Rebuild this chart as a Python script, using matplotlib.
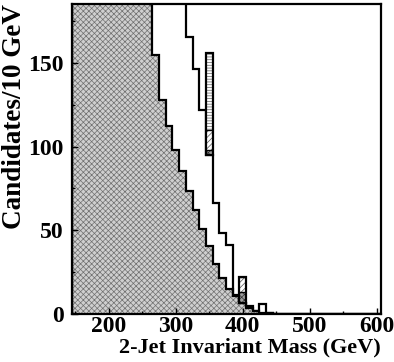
import numpy as np
import matplotlib
matplotlib.use("Agg")
import matplotlib.pyplot as plt
from matplotlib.ticker import MultipleLocator

# bin edges, 10 GeV wide
edges = np.arange(145, 615, 10)

# background (hatched) per bin, centres 150..600; the first bins run off the top
background = [
    260, 255, 250, 245, 240, 235, 230, 225, 220, 215, 205, 195,
    154.5, 128, 112, 98, 85.6, 73.5, 62.4, 51, 40.6, 29.7, 21.8, 14.9,
    10.9, 6.9, 4.0, 2.0, 1.0, 0.6, 0.4, 0.2,
    0, 0, 0, 0, 0, 0, 0, 0, 0, 0, 0, 0, 0, 0,
]
# total (open histogram) per bin
total = [
    300, 300, 300, 300, 300, 300, 300, 300, 300, 300, 300, 300,
    290, 270, 240, 215, 195, 165.6, 146, 122, 94.7, 66.4, 48.5, 41.2,
    11.5, 6.5, 5.0, 2.2, 6.3, 0.6, 0.4, 0.2,
    0, 0, 0, 0, 0, 0, 0, 0, 0, 0, 0, 0, 0, 0,
]

# stacked signal boxes
sig_mass = [350, 400]
sig_base = [94.7, 6.5]
sig_dark = [3.3, 6.5]
sig_diag = [12.0, 9.4]
sig_horiz = [45.5, 0.0]

plt.rcParams["font.family"] = ["Liberation Serif", "DejaVu Serif"]
plt.rcParams["font.weight"] = "bold"
plt.rcParams["hatch.linewidth"] = 0.5

fig = plt.figure(figsize=(3.94, 3.62), dpi=100)
ax = fig.add_axes([0.183, 0.132, 0.783, 0.857])

ax.stairs(background, edges, fill=True, facecolor="#cfcfcf",
          edgecolor="#707070", hatch="xxxxxx", lw=0)
ax.stairs(background, edges, color="black", lw=1.6)
ax.stairs(total, edges, color="black", lw=1.6)

b = np.array(sig_base)
ax.bar(sig_mass, sig_dark, width=10, bottom=b, facecolor="#9a9a9a",
       edgecolor="#303030", hatch="xxxxxx", lw=0)
b = b + np.array(sig_dark)
ax.bar(sig_mass, sig_diag, width=10, bottom=b, facecolor="white",
       edgecolor="#505050", hatch="//////", lw=0)
b = b + np.array(sig_diag)
ax.bar(sig_mass, sig_horiz, width=10, bottom=b, facecolor="white",
       edgecolor="#606060", hatch="------", lw=0)
top = b + np.array(sig_horiz)
# outlines of the boxes and the dividing lines
for i in range(len(sig_mass)):
    h = top[i] - sig_base[i]
    ax.bar(sig_mass[i], h, width=10, bottom=sig_base[i], fill=False,
           edgecolor="black", lw=1.6)
    ax.hlines([sig_base[i] + sig_dark[i], sig_base[i] + sig_dark[i] + sig_diag[i]],
              sig_mass[i] - 5, sig_mass[i] + 5, color="black", lw=1.0)

ax.set_xlim(145, 606)
ax.set_ylim(0, 185)
ax.xaxis.set_major_locator(MultipleLocator(100))
ax.xaxis.set_minor_locator(MultipleLocator(50))
ax.yaxis.set_major_locator(MultipleLocator(50))
ax.yaxis.set_minor_locator(MultipleLocator(25))
ax.tick_params(which="both", direction="in", labelsize=17, width=1.0)
ax.tick_params(which="major", length=4)
ax.tick_params(which="minor", length=2.5)
ax.tick_params(axis="x", which="major", pad=1)
ax.tick_params(axis="y", which="major", pad=6)
for s in ax.spines.values():
    s.set_linewidth(1.6)

ax.set_xlabel("2-Jet Invariant Mass (GeV)", fontsize=16, fontweight="bold",
              loc="right", labelpad=0.5)
ax.set_ylabel("Candidates/10 GeV", fontsize=19.5, fontweight="bold",
              loc="top", labelpad=1)

fig.savefig("out.png", dpi=100)
